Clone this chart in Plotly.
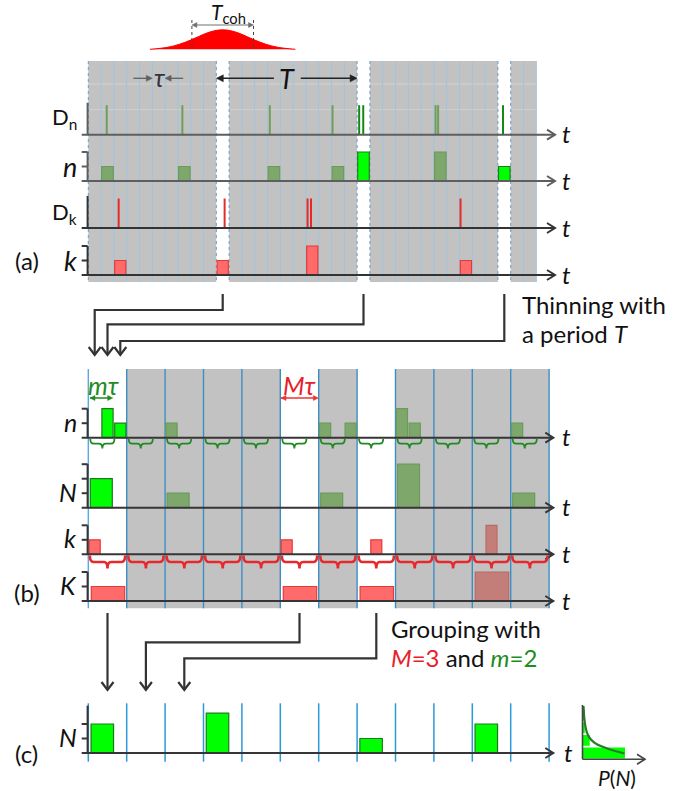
import plotly.graph_objects as go

# ================= data =================
# panel (a): raw record, time measured in bins of width tau
a_bin_count = 35
a_kept_bins = [10, 21, 32]            # bins kept by thinning (period T = 11 tau)
a_dn_times = [1.44, 7.35, 14.18, 19.08, 21.16, 21.48, 27.13, 27.33, 32.40]
a_n_bins = [1, 7, 14, 19, 21, 27, 32]
a_n_counts = [1, 1, 1, 1, 2, 2, 1]
a_dk_times = [2.37, 10.65, 17.13, 17.40, 29.08]
a_k_bins = [2, 10, 17, 29]
a_k_counts = [1, 1, 2, 1]

# panel (b): thinned record, grouped with M = 3 and m = 2
b_M = 3
b_m = 2
b_group_count = 12
b_kept_groups = [0, 5, 7]
b_n_bins = [1, 2, 6, 18, 20, 24, 25, 33]
b_n_counts = [2, 1, 1, 1, 1, 2, 1, 1]
b_N_groups = [0, 2, 6, 8, 11]
b_N_counts = [2, 1, 1, 3, 1]
b_k_bins = [0, 15, 22, 31]
b_k_counts = [1, 1, 1, 2]
b_K_groups = [0, 5, 7, 10]
b_K_counts = [1, 1, 1, 2]

# panel (c): grouped record after grouping-thinning
c_group_count = 12
c_N_groups = [0, 3, 7, 10]
c_N_counts = [2, 2.75, 1, 2]

# P(N) inset
pn_N = [0, 1, 2, 3]
pn_P = [1.0, 0.17, 0.055, 0.055]
pn_curve_N = [4.23, 3.28, 2.56, 2.0, 1.61, 1.29, 1.01, 0.78, 0.60, 0.46]
pn_curve_P = [0.024, 0.042, 0.071, 0.118, 0.188, 0.294, 0.459, 0.647, 0.835, 0.988]

# coherence pulse profile (time in units of T_coh, relative amplitude)
pulse_t = [-1.18, -0.9, -0.7, -0.5, -0.3, -0.15, 0, 0.15, 0.3, 0.5, 0.7, 0.9, 1.18]
pulse_a = [0.0, 0.1, 0.26, 0.5, 0.78, 0.94, 1.0, 0.94, 0.78, 0.5, 0.26, 0.1, 0.0]

# labels
a_row_labels = ["D<sub>n</sub>", "<i>n</i>", "D<sub>k</sub>", "<i>k</i>"]
b_row_labels = ["<i>n</i>", "<i>N</i>", "<i>k</i>", "<i>K</i>"]
c_row_label = "<i>N</i>"
panel_labels = ["(a)", "(b)", "(c)"]
axis_label = "<i>t</i>"

# ================= geometry / style =================
W, H = 697, 791
X0 = 88.3          # start of time axis (px)
TAU = 12.8         # bin width (px)
UNIT = 14.5        # one count (px)
AX_L = 81.7
AX_V = 87.6
AX_R_A = 555.0
AX_R_B = 553.3
A_TOP, A_BOT = 61.0, 282.0
A_ROWS = [134.7, 181.0, 228.0, 275.0]
A_AXC = ["#5e5e5e", "#5e5e5e", "#333333", "#333333"]
SPIKE_H = 29.5
B_TOP, B_BOT = 369.0, 608.3
B_ROWS = [437.7, 507.7, 554.3, 601.0]
C_AX = 753.0
C_TOP, C_BOT = 703.3, 761.7
GW = TAU * b_M     # group width

FONT = "Lato"
GRAY = "#c3c2c3"
AXC = "#363636"
BG = "#00ff00"
BG_L = "#1e7a1e"
DG = "#7ea76c"
DG_L = "#6c9a5a"
PK = "#ff6b6b"
PK_L = "#e53935"
DR = "#c47e79"
DR_L = "#b86a64"
GTXT = "#1e8c1e"
RTXT = "#e8202a"

fig = go.Figure()
shapes = []
ann = []


def bx(b):
    return X0 + TAU * b


def gx(g):
    return X0 + GW * g


def rect(x0, x1, y0, y1, color, layer="below"):
    shapes.append(dict(type="rect", xref="x", yref="y", x0=x0, x1=x1, y0=y0, y1=y1,
                       fillcolor=color, line=dict(width=0), layer=layer))


def vline(x, y0, y1, color, width=1, dash="solid", layer="below"):
    shapes.append(dict(type="line", xref="x", yref="y", x0=x, x1=x, y0=y0, y1=y1,
                       line=dict(color=color, width=width, dash=dash), layer=layer))


def hline(y, x0, x1, color, width=1, layer="below"):
    shapes.append(dict(type="line", xref="x", yref="y", x0=x0, x1=x1, y0=y, y1=y,
                       line=dict(color=color, width=width), layer=layer))


def text(x, y, s, size, color="#111111", xanchor="center", yanchor="middle"):
    ann.append(dict(x=x, y=y, xref="x", yref="y", text=s, showarrow=False,
                    font=dict(size=size, color=color, family=FONT),
                    xanchor=xanchor, yanchor=yanchor))


def polyline(xs, ys, color, width=2.0, shape="linear"):
    fig.add_trace(go.Scatter(x=xs, y=ys, mode="lines", line=dict(color=color, width=width, shape=shape),
                             hoverinfo="skip", showlegend=False))


def head(x, y, d, color, L=6.0, h=3.0):
    fig.add_trace(go.Scatter(x=[x, x - d * L, x - d * L, x], y=[y, y - h, y + h, y],
                             mode="lines", fill="toself", fillcolor=color,
                             line=dict(color=color, width=0.5), hoverinfo="skip", showlegend=False))


def harrow(x_from, x_to, y, color, width=1.5, both=False, L=6.0, h=3.0):
    d = 1 if x_to > x_from else -1
    polyline([x_from, x_to - d * L * 0.6], [y, y], color, width)
    head(x_to, y, d, color, L, h)
    if both:
        head(x_from, y, -d, color, L, h)


def bars(centers, heights, base, width, fills, lines, lw=1.2):
    fig.add_trace(go.Bar(x=centers, y=[-h * UNIT for h in heights], base=[base] * len(centers),
                         width=width, marker=dict(color=fills, line=dict(color=lines, width=lw)),
                         hoverinfo="skip", showlegend=False))


# axis line collections, keyed by colour
axes = {}


def add_axis(y, right, ticks=0, vtop=None, color=AXC):
    axx, axy = axes.setdefault(color, ([], []))
    axx.extend([AX_L, right, None, right - 8, right, right - 8, None])
    axy.extend([y, y, None, y - 5, y, y + 5, None])
    top = vtop if vtop is not None else y - ticks * UNIT
    if top < y:
        axx.extend([AX_V, AX_V, None])
        axy.extend([top, y, None])
    for i in range(1, ticks + 1):
        axx.extend([AX_L, AX_V, None])
        axy.extend([y - i * UNIT, y - i * UNIT, None])


# ---------------- panel (a) ----------------
rect(X0, bx(a_bin_count), A_TOP, A_BOT, GRAY)
hline(84.0, X0, bx(a_bin_count), "#d3d3d3", 1)
hline(109.7, X0, bx(a_bin_count), "#d0d0d0", 1)
for b in a_kept_bins:
    rect(bx(b), bx(b + 1), A_TOP, A_BOT, "white")
for i in range(a_bin_count + 1):
    edge = i == 0 or i in a_kept_bins or (i - 1) in a_kept_bins
    if edge:
        vline(bx(i), A_TOP, A_BOT, "#6a9cc2", 1, "dot")
    else:
        vline(bx(i), A_TOP, A_BOT, "#9ec5dc", 1)

# coherence pulse
PC = bx(10.5)
TCOH = 61.6
PB = 49.3
fig.add_trace(go.Scatter(x=[PC + t * TCOH for t in pulse_t], y=[PB - a * 19.5 for a in pulse_a],
                         mode="lines", fill="toself", fillcolor="#ff0000",
                         line=dict(color="#ff0000", width=1, shape="spline"),
                         hoverinfo="skip", showlegend=False))
vline(PC - TCOH / 2, 20, PB, "#444444", 1, "dot", "above")
vline(PC + TCOH / 2, 20, PB, "#444444", 1, "dot", "above")
harrow(PC, PC - TCOH / 2, 25, "#707070", 1, False, 5, 2.5)
harrow(PC, PC + TCOH / 2, 25, "#707070", 1, False, 5, 2.5)
text(PC + 6, 13, "<i>T</i><sub>coh</sub>", 21)

# tau and T markers
harrow(bx(5) - 19, bx(5), 78.3, "#606060", 1.3, False, 6, 3)
harrow(bx(6) + 18, bx(6), 78.3, "#606060", 1.3, False, 6, 3)
text(bx(5.6), 77, "<i>τ</i>", 25, "#333344")
harrow(bx(14.5), bx(10), 78.3, "#222222", 1.5, False, 7, 3.5)
harrow(bx(16.6), bx(21), 78.3, "#222222", 1.5, False, 7, 3.5)
text(bx(15.55), 78, "<i>T</i>", 27)


# spikes
def spikes(times, base, sel, color):
    xs, ys = [], []
    for t in times:
        if sel(int(t)):
            xs.extend([bx(t), bx(t), None])
            ys.extend([base, base - SPIKE_H, None])
    polyline(xs, ys, color, 2.0)


spikes(a_dn_times, A_ROWS[0], lambda b: b not in a_kept_bins, "#6e9e5c")
spikes(a_dn_times, A_ROWS[0], lambda b: b in a_kept_bins, "#138a13")
spikes(a_dk_times, A_ROWS[2], lambda b: True, "#e52a2a")

bars([bx(b + 0.5) for b in a_n_bins], a_n_counts, A_ROWS[1], TAU - 1.2,
     [BG if b in a_kept_bins else DG for b in a_n_bins],
     [BG_L if b in a_kept_bins else DG_L for b in a_n_bins])
bars([bx(b + 0.5) for b in a_k_bins], a_k_counts, A_ROWS[3], TAU - 1.6,
     [PK] * len(a_k_bins), [PK_L] * len(a_k_bins))

add_axis(A_ROWS[0], AX_R_A, 0, A_ROWS[0] - 32, A_AXC[0])
add_axis(A_ROWS[1], AX_R_A, 2, None, A_AXC[1])
add_axis(A_ROWS[2], AX_R_A, 0, A_ROWS[2] - 32, A_AXC[2])
add_axis(A_ROWS[3], AX_R_A, 2, None, A_AXC[3])

LBL_X = 79
text(LBL_X, A_ROWS[0] - 17, a_row_labels[0], 22, xanchor="right")
text(LBL_X, A_ROWS[1] - 15, a_row_labels[1], 27, xanchor="right")
text(LBL_X, A_ROWS[2] - 15, a_row_labels[2], 22, xanchor="right")
text(LBL_X, A_ROWS[3] - 15, a_row_labels[3], 27, xanchor="right")
for y in A_ROWS:
    text(560, y - 1, axis_label, 24, xanchor="left")
text(26.5, 260, panel_labels[0], 24)

# thinning connectors
tx, ty = [], []
targets = [0, 1, 2]
elbows = [310.0, 324.3, 341.0]
for b, tb, ey in zip(a_kept_bins, targets, elbows):
    xs_ = bx(b + 0.5)
    xt = bx(tb + 0.5)
    tx.extend([xs_, xs_, xt, xt, None, xt - 6, xt, xt + 6, None])
    ty.extend([294, ey, ey, 355, None, 347, 355, 347, None])
polyline(tx, ty, "#333333", 2.2)
text(520, 304, "Thinning with", 24, xanchor="left")
text(520, 333, "a period <i>T</i>", 24, xanchor="left")

# ---------------- panel (b) ----------------
for g in range(b_group_count):
    if g not in b_kept_groups:
        rect(gx(g), gx(g + 1), B_TOP, B_BOT, GRAY)
for g in range(b_group_count + 1):
    vline(gx(g), B_TOP, B_BOT, "#5aa8e0" if g == 0 else "#3b8ec4", 1.4)

kept_bin = lambda b: (b // b_M) in b_kept_groups
bars([bx(b + 0.5) for b in b_n_bins], b_n_counts, B_ROWS[0], TAU - 1.6,
     [BG if kept_bin(b) else DG for b in b_n_bins],
     [BG_L if kept_bin(b) else DG_L for b in b_n_bins])
bars([gx(g) + b_m * TAU / 2 + 0.2 for g in b_N_groups], b_N_counts, B_ROWS[1], b_m * TAU - 3.6,
     [BG if g in b_kept_groups else DG for g in b_N_groups],
     [BG_L if g in b_kept_groups else DG_L for g in b_N_groups])
bars([bx(b + 0.5) for b in b_k_bins], b_k_counts, B_ROWS[2], TAU - 1.8,
     [PK if kept_bin(b) else DR for b in b_k_bins],
     [PK_L if kept_bin(b) else DR_L for b in b_k_bins])
bars([gx(g) + GW / 2 + 0.5 for g in b_K_groups], b_K_counts, B_ROWS[3], GW - 5,
     [PK if g in b_kept_groups else DR for g in b_K_groups],
     [PK_L if g in b_kept_groups else DR_L for g in b_K_groups])


def brace(x0, x1, y0, d, color, width):
    xc = (x0 + x1) / 2
    ym = y0 + d * 0.5
    r = 3.5
    p = (f"M {x0},{y0} Q {x0},{ym} {x0 + r},{ym} L {xc - r},{ym} Q {xc},{ym} {xc},{y0 + d} "
         f"Q {xc},{ym} {xc + r},{ym} L {x1 - r},{ym} Q {x1},{ym} {x1},{y0}")
    shapes.append(dict(type="path", xref="x", yref="y", path=p,
                       line=dict(color=color, width=width), layer="above"))


for g in range(b_group_count):
    brace(gx(g) + 2.0, gx(g) + b_m * TAU + 0.5, B_ROWS[0] + 1.2, 9.5, "#1f8a1f", 1.8)
    brace(gx(g) + 1.6, gx(g) + GW - 1.6, B_ROWS[2] + 1.2, 13, "#e8282a", 2.6)

add_axis(B_ROWS[0], AX_R_B, 2)
add_axis(B_ROWS[1], AX_R_B, 3)
add_axis(B_ROWS[2], AX_R_B, 2)
add_axis(B_ROWS[3], AX_R_B, 2)

for i, y in enumerate(B_ROWS):
    text(LBL_X, y - 16, b_row_labels[i], 25, xanchor="right")
    text(560, y - 1, axis_label, 24, xanchor="left")
text(26.5, 592, panel_labels[1], 24)

harrow(X0 + 1.7, X0 + b_m * TAU - 1.2, 398, "#1f8a1f", 1.5, True, 5, 2.5)
text(X0 + 15.5, 385, "<i>mτ</i>", 25, GTXT)
harrow(gx(5) + 0.7, gx(6) - 0.4, 398, "#ee3333", 1.5, True, 5, 2.5)
text(gx(5) + 19.5, 385, "<i>Mτ</i>", 25, RTXT)

# grouping connectors
gtx, gty = [], []
g_targets = [0, 1, 2]
g_elbows = [None, 642.3, 658.3]
for g, tg, ey in zip(b_kept_groups, g_targets, g_elbows):
    xs_ = gx(g + 0.5)
    xt = gx(tg + 0.5)
    if ey is None:
        gtx.extend([xs_, xt, None])
        gty.extend([613, 690, None])
    else:
        gtx.extend([xs_, xs_, xt, xt, None])
        gty.extend([613, ey, ey, 690, None])
    gtx.extend([xt - 6, xt, xt + 6, None])
    gty.extend([682, 690, 682, None])
polyline(gtx, gty, "#333333", 2.2)
text(389, 628, "Grouping with", 24, xanchor="left")
text(389, 657, f"<span style='color:{RTXT}'><i>M</i>=3</span> and "
               f"<span style='color:{GTXT}'><i>m</i>=2</span>", 24, xanchor="left")

# ---------------- panel (c) ----------------
for g in range(c_group_count + 1):
    vline(gx(g), C_TOP, C_BOT, "#2a9ad8", 1.5)
bars([gx(g) + 14.0 for g in c_N_groups], c_N_counts, C_AX, 22.5,
     [BG] * len(c_N_groups), [BG_L] * len(c_N_groups))
add_axis(C_AX, AX_R_B, 2, C_AX - 47.3)
text(LBL_X, C_AX - 16, c_row_label, 25, xanchor="right")
text(562, C_AX - 1, axis_label, 24, xanchor="left")
text(26, 753, panel_labels[2], 24)

# P(N) inset
PX0, PY0 = 582.5, 759.3
PSX, PSY = 42.5, 12.6
fig.add_trace(go.Bar(y=[PY0 - (n + 0.5) * PSY for n in pn_N], x=[p * PSX for p in pn_P],
                     base=[PX0] * len(pn_N), width=PSY - 1.8, orientation="h",
                     marker=dict(color=BG, line=dict(width=0)), hoverinfo="skip", showlegend=False))
polyline([PX0 + p * PSX for p in pn_curve_P], [PY0 - n * PSY for n in pn_curve_N], "#2a7a2a", 2.2, "spline")
polyline([PX0, PX0, None, PX0, 645, None, 637, 645, 637], [705, PY0, None, PY0, PY0, None, PY0 - 5, PY0, PY0 + 5],
         "#444444", 1.6)
text(616.5, 777, "<i>P</i>(<i>N</i>)", 21)

# axes (drawn last)
for col, (xx, yy) in axes.items():
    polyline(xx, yy, col, 2.0)

fig.update_layout(
    width=W, height=H, margin=dict(l=0, r=0, t=0, b=0),
    paper_bgcolor="white", plot_bgcolor="white",
    xaxis=dict(range=[0, W], visible=False, fixedrange=True),
    yaxis=dict(range=[H, 0], visible=False, fixedrange=True),
    barmode="overlay", showlegend=False,
    shapes=shapes, annotations=ann,
)
fig.write_html("out.html", config={"displayModeBar": False},
               post_script="document.body.style.margin='0px';document.body.style.overflow='hidden';")
